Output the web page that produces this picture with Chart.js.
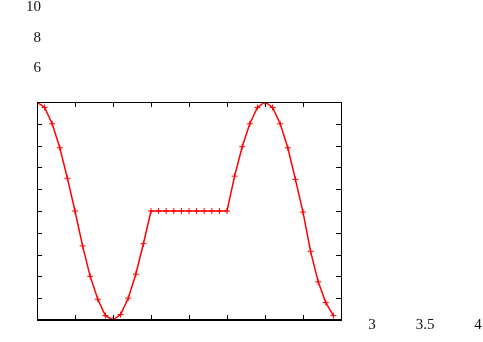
<!DOCTYPE html>
<html>
<head>
<meta charset="utf-8">
<script src="https://cdn.jsdelivr.net/npm/chart.js@4/dist/chart.umd.min.js"></script>
<style>
	body { margin: 0; background: #fff; }
	#wrap { width: 483px; height: 342px; }
</style>
</head>
<body>
<div id="wrap"><canvas id="chart" width="483" height="342"></canvas></div>
<script>
// sample index along the curve
const xs = [
	0, 1, 2, 3, 4, 5, 6, 7, 8, 9,
	10, 11, 12, 13, 14, 15, 16, 17, 18, 19,
	20, 21, 22, 23, 24, 25, 26, 27, 28, 29,
	30, 31, 32, 33, 34, 35, 36, 37, 38, 39
];
// values
const ys = [
	1.0, 0.95, 0.8, 0.58, 0.3, 0.0, -0.32, -0.6, -0.81, -0.96,
	-1.0, -0.95, -0.8, -0.58, -0.3, 0.0, 0.0, 0.0, 0.0, 0.0,
	0.0, 0.0, 0.0, 0.0, 0.0, 0.0, 0.32, 0.59, 0.8, 0.95,
	1.0, 0.95, 0.8, 0.58, 0.29, -0.01, -0.37, -0.65, -0.84, -0.96
];
const xTicks = [0, 5, 10, 15, 20, 25, 30, 35, 40];
const yTicks = [-1, -0.8, -0.6, -0.4, -0.2, 0, 0.2, 0.4, 0.6, 0.8, 1];
// stray tick labels that sit outside the frame
const leftLabels = ['10', '8', '6'];
const bottomLabels = ['3', '3.5', '4'];

const points = xs.map((x, i) => ({ x: x, y: ys[i] }));

// frame with inward ticks on all four sides, gnuplot style
const framePlugin = {
	id: 'frame',
	afterDatasetsDraw(chart) {
		const ctx = chart.ctx;
		const a = chart.chartArea;
		const sx = chart.scales.x;
		const sy = chart.scales.y;
		const len = 5;
		ctx.save();
		ctx.strokeStyle = '#000';
		ctx.lineWidth = 1;
		ctx.beginPath();
		xTicks.forEach(v => {
			const px = Math.round(sx.getPixelForValue(v)) + 0.5;
			ctx.moveTo(px, a.bottom);
			ctx.lineTo(px, a.bottom - len);
			ctx.moveTo(px, a.top);
			ctx.lineTo(px, a.top + len);
		});
		yTicks.forEach(v => {
			const py = Math.round(sy.getPixelForValue(v)) + 0.5;
			ctx.moveTo(a.left, py);
			ctx.lineTo(a.left + len, py);
			ctx.moveTo(a.right, py);
			ctx.lineTo(a.right - len, py);
		});
		ctx.stroke();
		ctx.strokeRect(Math.round(a.left) + 0.5, Math.round(a.top) + 0.5,
			Math.round(a.right - a.left), Math.round(a.bottom - a.top));
		// bottom edge is a bit heavier
		ctx.lineWidth = 2;
		ctx.beginPath();
		ctx.moveTo(a.left, Math.round(a.bottom));
		ctx.lineTo(a.right + 1, Math.round(a.bottom));
		ctx.stroke();
		ctx.restore();
	},
	afterDraw(chart) {
		const ctx = chart.ctx;
		ctx.save();
		ctx.fillStyle = '#111';
		ctx.font = '15px "Liberation Serif", "DejaVu Serif", serif';
		ctx.textBaseline = 'alphabetic';
		ctx.textAlign = 'right';
		const leftY = [11, 42, 72];
		leftLabels.forEach((t, i) => ctx.fillText(t, 41, leftY[i]));
		ctx.textAlign = 'center';
		const bottomX = [372, 425, 478];
		bottomLabels.forEach((t, i) => ctx.fillText(t, bottomX[i], 329));
		ctx.restore();
	}
};

new Chart(document.getElementById('chart'), {
	type: 'scatter',
	data: {
		datasets: [{
			data: points,
			showLine: true,
			borderColor: '#ff0000',
			backgroundColor: '#ff0000',
			borderWidth: 1.5,
			pointStyle: 'cross',
			pointRadius: 3,
			pointBorderWidth: 1,
			pointHoverRadius: 3,
			tension: 0
		}]
	},
	options: {
		responsive: false,
		animation: false,
		devicePixelRatio: 1,
		layout: {
			padding: { left: 37, top: 102, right: 142, bottom: 22 }
		},
		plugins: {
			legend: { display: false },
			tooltip: { enabled: false }
		},
		scales: {
			x: {
				type: 'linear',
				min: 0,
				max: 40,
				display: false
			},
			y: {
				type: 'linear',
				min: -1,
				max: 1,
				display: false
			}
		}
	},
	plugins: [framePlugin]
});
</script>
</body>
</html>
